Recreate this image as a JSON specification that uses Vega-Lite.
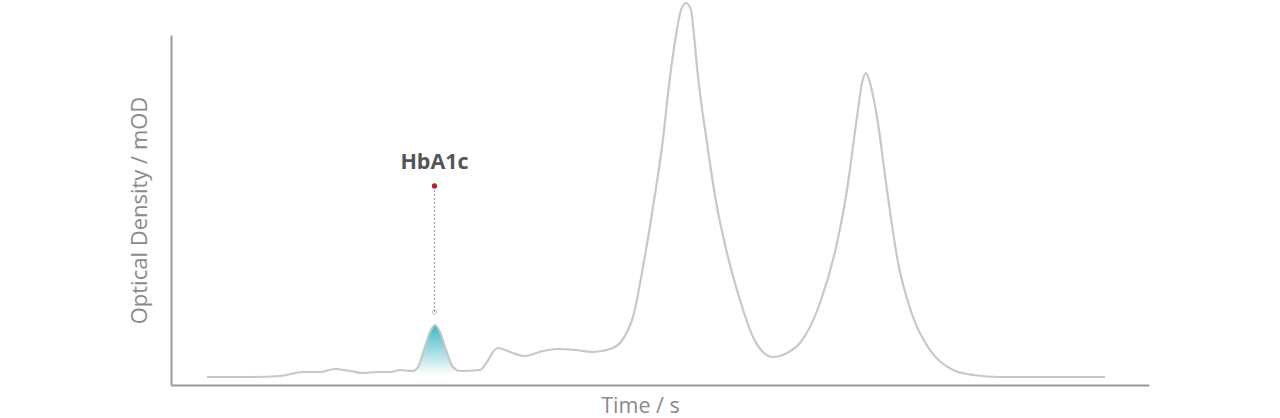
{
  "$schema": "https://vega.github.io/schema/vega-lite/v6.json",
  "autosize": "none",
  "padding": {"left": 171, "top": 35, "right": 131, "bottom": 33},
  "width": 978,
  "height": 350,
  "background": "white",
  "config": {"view": {"stroke": null}, "font": "Open Sans"},
  "datasets": {
    "curve": [
      {"t": 36, "od": 8}, {"t": 79, "od": 8}, {"t": 109, "od": 9}, {"t": 132, "od": 13},
      {"t": 149, "od": 13}, {"t": 164, "od": 16}, {"t": 179, "od": 14}, {"t": 192, "od": 12},
      {"t": 206, "od": 13}, {"t": 219, "od": 13}, {"t": 229, "od": 15}, {"t": 242, "od": 14},
      {"t": 247, "od": 18}, {"t": 253, "od": 35}, {"t": 259, "od": 53}, {"t": 264, "od": 60},
      {"t": 269, "od": 53}, {"t": 275, "od": 35}, {"t": 282, "od": 18}, {"t": 289, "od": 14},
      {"t": 309, "od": 15}, {"t": 316, "od": 23}, {"t": 322, "od": 33}, {"t": 327, "od": 37},
      {"t": 339, "od": 33}, {"t": 354, "od": 29}, {"t": 372, "od": 34}, {"t": 386, "od": 36},
      {"t": 404, "od": 35}, {"t": 422, "od": 33}, {"t": 439, "od": 36}, {"t": 449, "od": 42},
      {"t": 457, "od": 55}, {"t": 462, "od": 68}, {"t": 472, "od": 118}, {"t": 482, "od": 178},
      {"t": 491, "od": 238}, {"t": 499, "od": 308}, {"t": 505, "od": 350}, {"t": 510, "od": 375},
      {"t": 515, "od": 382}, {"t": 520, "od": 375}, {"t": 523, "od": 350}, {"t": 526, "od": 318},
      {"t": 536, "od": 242}, {"t": 546, "od": 178}, {"t": 556, "od": 132}, {"t": 569, "od": 85},
      {"t": 582, "od": 48}, {"t": 592, "od": 33}, {"t": 602, "od": 28}, {"t": 616, "od": 32},
      {"t": 629, "od": 42}, {"t": 649, "od": 82}, {"t": 666, "od": 142}, {"t": 676, "od": 195},
      {"t": 686, "od": 268}, {"t": 691, "od": 302}, {"t": 695, "od": 312}, {"t": 699, "od": 302},
      {"t": 706, "od": 268}, {"t": 716, "od": 195}, {"t": 726, "od": 128}, {"t": 742, "od": 68},
      {"t": 759, "od": 35}, {"t": 782, "od": 15}, {"t": 802, "od": 10}, {"t": 829, "od": 8},
      {"t": 934, "od": 8}
    ],
    "peak": [
      {"t": 246, "od": 16}, {"t": 253, "od": 35}, {"t": 259, "od": 53}, {"t": 264, "od": 60},
      {"t": 269, "od": 53}, {"t": 275, "od": 35}, {"t": 283, "od": 16}
    ],
    "note": [
      {"t": 263.5, "top": 199, "bottom": 73, "labelY": 222, "label": "HbA1c"}
    ]
  },
  "layer": [
    {
      "data": {"name": "peak"},
      "mark": {
        "type": "area",
        "interpolate": "monotone",
        "fill": {
          "gradient": "linear", "x1": 0, "y1": 0, "x2": 0, "y2": 1,
          "stops": [{"offset": 0, "color": "#3fb6c4"}, {"offset": 1, "color": "#ffffff"}]
        }
      },
      "encoding": {
        "x": {"field": "t", "type": "quantitative", "scale": {"domain": [0, 978], "nice": false, "zero": false},
              "axis": {"title": "Time / s", "labels": false, "ticks": false, "grid": false,
                       "domainColor": "#9a9a9a", "domainWidth": 2, "titleFontSize": 21.5,
                       "titleFontWeight": "normal", "titleColor": "#8a8a8a", "titlePadding": 10, "titleX": 469}},
        "y": {"field": "od", "type": "quantitative", "scale": {"domain": [0, 350], "nice": false},
              "axis": {"title": "Optical Density / mOD", "labels": false, "ticks": false, "grid": false,
                       "domainColor": "#9a9a9a", "domainWidth": 2, "titleFontSize": 22,
                       "titleFontWeight": "normal", "titleColor": "#8a8a8a", "titlePadding": 20}},
        "y2": {"datum": 10}
      }
    },
    {
      "data": {"name": "curve"},
      "mark": {"type": "line", "interpolate": "monotone", "color": "#c8c8c8", "strokeWidth": 2.2, "clip": false},
      "encoding": {
        "x": {"field": "t", "type": "quantitative"},
        "y": {"field": "od", "type": "quantitative"}
      }
    },
    {
      "data": {"name": "note"},
      "mark": {"type": "rule", "color": "#999999", "strokeDash": [2, 2], "strokeWidth": 1},
      "encoding": {
        "x": {"field": "t", "type": "quantitative"},
        "y": {"field": "top", "type": "quantitative"},
        "y2": {"field": "bottom"}
      }
    },
    {
      "data": {"name": "note"},
      "mark": {"type": "point", "shape": "diamond", "filled": false, "color": "#999999", "size": 28, "strokeWidth": 1},
      "encoding": {
        "x": {"field": "t", "type": "quantitative"},
        "y": {"field": "bottom", "type": "quantitative"}
      }
    },
    {
      "data": {"name": "note"},
      "mark": {"type": "circle", "color": "#b0232a", "size": 28, "opacity": 1},
      "encoding": {
        "x": {"field": "t", "type": "quantitative"},
        "y": {"field": "top", "type": "quantitative"}
      }
    },
    {
      "data": {"name": "note"},
      "mark": {"type": "text", "fontSize": 21.5, "fontWeight": "bold", "color": "#555555", "align": "center", "baseline": "middle"},
      "encoding": {
        "x": {"field": "t", "type": "quantitative"},
        "y": {"field": "labelY", "type": "quantitative"},
        "text": {"field": "label"}
      }
    }
  ]
}
